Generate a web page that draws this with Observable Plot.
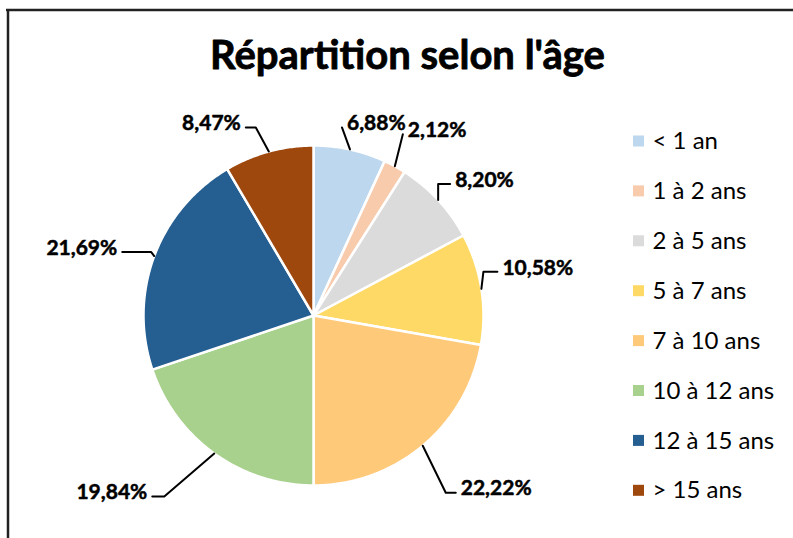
<!DOCTYPE html>
<html><head><meta charset="utf-8">
<script src="https://cdn.jsdelivr.net/npm/d3@7"></script>
<script src="https://cdn.jsdelivr.net/npm/@observablehq/plot@0.6"></script>
<style>body{margin:0;background:#fff}</style>
</head><body><div id="chart"></div>
<script>
// ---- data ----
const categories = ["< 1 an","1 à 2 ans","2 à 5 ans","5 à 7 ans","7 à 10 ans","10 à 12 ans","12 à 15 ans","> 15 ans"];
const shares = [6.88, 2.12, 8.20, 10.58, 22.22, 19.84, 21.69, 8.47];
const colors = ["#BDD7EE","#F8CBAD","#DBDBDB","#FFD966","#FFC97A","#A9D18E","#255E91","#9E480E"];
const titleText = "Répartition selon l'âge";

// ---- layout ----
const W = 793, H = 538, CX = 313, CY = 315, R = 170;
// per label: [side, dx, dy, elbow] offsets of the text edge from the slice anchor
const labelLayout = [[1,-3,-26,0],[1,13,-36,0],[1,17,-20,12],[1,21,-21,14],[1,38,43,10],[-1,-67,39,12],[-1,-37,-8,29],[-1,-28,-28,10]];
const FONT = "Lato, 'Open Sans', sans-serif";

const arcs = d3.pie().sort(null).value(d => d)(shares);
const pt = (a, r) => [CX + r * Math.sin(a), CY - r * Math.cos(a)];

const poly = [];
arcs.forEach((a, i) => {
  const cat = categories[i];
  poly.push({cat, x: CX, y: CY});
  const n = Math.max(2, Math.ceil((a.endAngle - a.startAngle) / 0.01));
  for (let k = 0; k <= n; k++) {
    const t = a.startAngle + (a.endAngle - a.startAngle) * k / n;
    const [x, y] = pt(t, R);
    poly.push({cat, x, y});
  }
});

const labels = [], leaders = [];
arcs.forEach((a, i) => {
  const mid = (a.startAngle + a.endAngle) / 2;
  const [ax, ay] = pt(mid, R);
  const [side, dx, dy, h] = labelLayout[i];
  const tx = ax + dx, ty = ay + dy;
  const ex = tx - side * 5, ey = ty + 4;
  labels.push({x: tx, y: ty, side, text: shares[i].toFixed(2).replace(".", ",") + "%"});
  leaders.push({id: i, x: ex, y: ey}, {id: i, x: ex - side * h, y: ey}, {id: i, x: ax, y: ay});
});

const legend = categories.map((c, i) => ({cat: c, y: 141 + i * 49.9}));

const boldText = {fill: "#000", stroke: "#000", strokeWidth: 0.5, fontWeight: "bold"};

const chart = Plot.plot({
  width: W, height: H, margin: 0,
  x: {domain: [0, W], range: [0, W], axis: null},
  y: {domain: [0, H], range: [0, H], axis: null},
  color: {domain: categories, range: colors},
  style: {fontFamily: FONT, background: "#fff"},
  marks: [
    Plot.ruleY([9.5], {x1: 6, x2: W, stroke: "#222", strokeWidth: 2.5}),
    Plot.ruleX([7.5], {y1: 9, y2: H, stroke: "#222", strokeWidth: 2.5}),
    Plot.text([titleText], {x: 407, y: 56, text: d => d, fontSize: 40, textAnchor: "middle", ...boldText, strokeWidth: 0.8}),
    Plot.line(poly, {x: "x", y: "y", z: "cat", fill: "cat", stroke: "#fff", strokeWidth: 2.5, curve: "linear-closed"}),
    Plot.line(leaders, {x: "x", y: "y", z: "id", stroke: "#000", strokeWidth: 2}),
    Plot.text(labels.filter(d => d.side > 0), {x: "x", y: "y", text: "text", textAnchor: "start", fontSize: 21, ...boldText}),
    Plot.text(labels.filter(d => d.side < 0), {x: "x", y: "y", text: "text", textAnchor: "end", fontSize: 21, ...boldText}),
    Plot.rect(legend, {x1: 633, x2: 644, y1: d => d.y - 5.5, y2: d => d.y + 5.5, fill: "cat"}),
    Plot.text(legend, {x: 652, y: "y", text: "cat", textAnchor: "start", fontSize: 24, fill: "#000"})
  ]
});
document.getElementById("chart").appendChild(chart);
</script>
</body></html>
